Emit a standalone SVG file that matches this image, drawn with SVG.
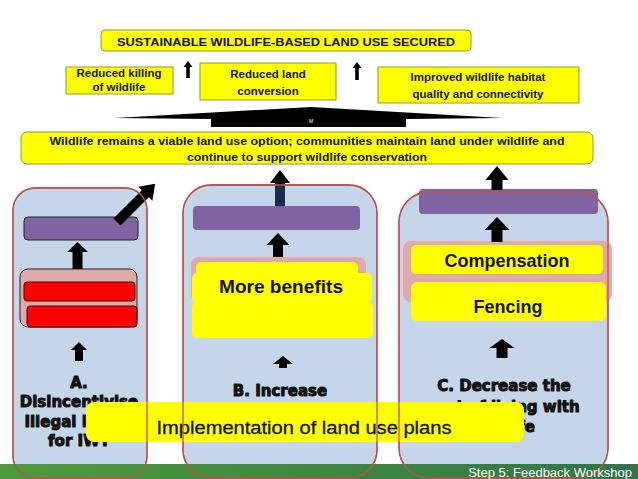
<svg xmlns="http://www.w3.org/2000/svg" width="638" height="479" viewBox="0 0 638 479">
<style>
.yb{fill:#ffff00;stroke:#8a9a3c;stroke-width:1}
.yt{font-family:"Liberation Sans",Arial,sans-serif;font-weight:bold;font-size:11.5px;fill:#111;text-anchor:middle}
.panel{fill:#c6d6ea;stroke:#c0504d;stroke-width:1.3}
.pline{fill:none;stroke:#c0504d;stroke-width:1.3}
.purple{fill:#8064a2}
.pink{fill:#dfaaa9}
.red{fill:#ff0000;stroke:#4a0000;stroke-width:1}
.ybox{fill:#ffff00}
.big{font-family:"DejaVu Sans",Verdana,sans-serif;font-weight:bold;font-size:15px;fill:#111;stroke:#111;stroke-width:1;stroke-linejoin:round;text-anchor:middle}
.mid{font-family:"Liberation Sans",Arial,sans-serif;font-weight:bold;font-size:18px;fill:#111;text-anchor:middle}
.arr{fill:#000}
</style>
<defs>
<linearGradient id="gbar" x1="0" y1="0" x2="1" y2="0">
<stop offset="0" stop-color="#4f9b3a"/>
<stop offset="1" stop-color="#2f7546"/>
</linearGradient>
</defs>
<rect width="638" height="479" fill="#ffffff"/>

<g id="goal">
<rect class="yb" x="101" y="30" width="370" height="21" rx="4"/>
<text class="yt" x="286" y="45.5" font-size="13" textLength="338" lengthAdjust="spacingAndGlyphs">SUSTAINABLE WILDLIFE-BASED LAND USE SECURED</text>
</g>
<g id="out1">
<rect class="yb" x="66" y="67" width="107" height="27"/>
<text class="yt" x="119" y="77">Reduced killing</text>
<text class="yt" x="119" y="91">of wildlife</text>
</g>
<g id="out2">
<rect class="yb" x="200" y="63" width="136" height="37"/>
<text class="yt" x="268" y="78">Reduced land</text>
<text class="yt" x="268" y="95">conversion</text>
</g>
<g id="out3">
<rect class="yb" x="378" y="67" width="201" height="36"/>
<text class="yt" x="478" y="81">Improved wildlife habitat</text>
<text class="yt" x="478" y="98">quality and connectivity</text>
</g>
<g id="hat">
<polygon fill="#000" points="115,118 311,107 502,118 406,119 406,127 211,127 211,119"/>
<text x="311" y="123" font-family="Liberation Sans,Arial,sans-serif" font-size="5" fill="#fff" text-anchor="middle">M</text>
</g>
<g id="outcome">
<rect class="yb" x="21" y="132" width="572" height="32" rx="6"/>
<text class="yt" x="307" y="145" textLength="515" lengthAdjust="spacingAndGlyphs">Wildlife remains a viable land use option; communities maintain land under wildlife and</text>
<text class="yt" x="307" y="161" textLength="240" lengthAdjust="spacingAndGlyphs">continue to support wildlife conservation</text>
</g>

<g id="panelA">
<rect class="panel" x="13" y="188" width="134" height="290" rx="22"/>
<rect class="purple" x="24" y="217" width="114" height="23" rx="4" stroke="#222" stroke-width="1"/>
<rect class="pink" x="20" y="269" width="117" height="58" rx="8" fill="#e6b9b8" stroke="#222" stroke-width="1"/>
<rect class="red" x="24" y="282" width="111" height="19" rx="3"/>
<rect class="red" x="27" y="306" width="110" height="21" rx="3"/>
<text class="big" x="79" y="388">A.</text>
<text class="big" x="79" y="407" font-size="14.5">Disincentivise</text>
<text class="big" x="79" y="427" font-size="14.5">Illegal killing</text>
<text class="big" x="79" y="446" font-size="14.5">for IWT</text>
</g>

<g id="panelB">
<rect class="panel" x="183" y="185" width="194" height="293" rx="28"/>
<rect class="purple" x="193" y="206" width="167" height="24" rx="4"/>
<rect class="pink" x="191" y="257" width="175" height="45" rx="8"/>
<rect class="ybox" x="192" y="273" width="180" height="30" rx="5"/>
<rect class="ybox" x="192" y="302" width="181" height="36" rx="5"/>
<rect class="ybox" x="196" y="262" width="162" height="40" rx="5"/>
<text class="mid" x="281" y="293" textLength="124" lengthAdjust="spacingAndGlyphs">More benefits</text>
<text class="big" x="280" y="396" font-size="16">B. Increase</text>
</g>

<g id="panelC">
<rect class="panel" x="399" y="192" width="209" height="286" rx="30"/>
<rect class="purple" x="419" y="189" width="179" height="25" rx="4"/>
<rect class="pink" x="403" y="241" width="209" height="61" rx="8"/>
<rect class="ybox" x="411" y="245" width="192" height="29" rx="5"/>
<rect class="ybox" x="411" y="282" width="195" height="39" rx="6"/>
<text class="mid" x="507" y="267">Compensation</text>
<text class="mid" x="508" y="313">Fencing</text>
<text class="big" x="504" y="391" font-size="16">C. Decrease the</text>
<text class="big" x="504" y="412" font-size="16">cost of living with</text>
<text class="big" x="504" y="432" font-size="16">wildlife</text>
</g>

<g id="connectors">
<polygon class="arr" points="188,61 192.5,67 189.8,67 189.8,78 186.2,78 186.2,67 183.5,67"/>
<polygon class="arr" points="357,62 361.5,68 358.8,68 358.8,80 355.2,80 355.2,68 352.5,68"/>
<polygon class="arr" points="280,170 290,183 285,183 285,206 275,206 275,183 270,183"/>
<rect x="275" y="184" width="10" height="22" fill="#1b2b45"/>
<polygon class="arr" points="497,166 508.5,180 502.5,180 502.5,190 491.5,190 491.5,180 485.5,180"/>
<polygon class="arr" points="77.5,242 88,252 82.5,252 82.5,269 72.5,269 72.5,252 67,252"/>
<polygon class="arr" points="278,233 289.5,245 283,245 283,257 273,257 273,245 266.5,245"/>
<polygon class="arr" points="497,217 509.5,230 502.5,230 502.5,242 491.5,242 491.5,230 484.5,230"/>
<polygon class="arr" points="79,342 87,350 83,350 83,361 75,361 75,350 71,350"/>
<polygon class="arr" points="283,356 293,364 287,364 287,368 279,368 279,364 273,364"/>
<polygon class="arr" points="502,339 514.5,348 507.5,348 507.5,358 496.5,358 496.5,348 489.5,348"/>
<polygon class="arr" transform="translate(117,222) rotate(45)" points="0,-54 10,-40 5,-40 5,0 -5,0 -5,-40 -10,-40"/>
</g>

<g id="banner">
<rect class="ybox" x="86" y="402" width="438" height="40" rx="8"/>
<text x="304" y="434" font-family="Liberation Sans,Arial,sans-serif" font-size="18" fill="#111" stroke="#111" stroke-width="0.3" text-anchor="middle" textLength="295" lengthAdjust="spacingAndGlyphs">Implementation of land use plans</text>
</g>

<g id="footer">
<rect x="0" y="464" width="638" height="15" fill="url(#gbar)"/>
<rect class="pline" x="13" y="188" width="134" height="290" rx="22"/>
<rect class="pline" x="183" y="185" width="194" height="293" rx="28"/>
<rect class="pline" x="399" y="192" width="209" height="286" rx="30"/>
<text x="632" y="476.5" font-family="Liberation Sans,Arial,sans-serif" font-size="13" fill="#ffffff" text-anchor="end">Step 5: Feedback Workshop</text>
</g>
</svg>
